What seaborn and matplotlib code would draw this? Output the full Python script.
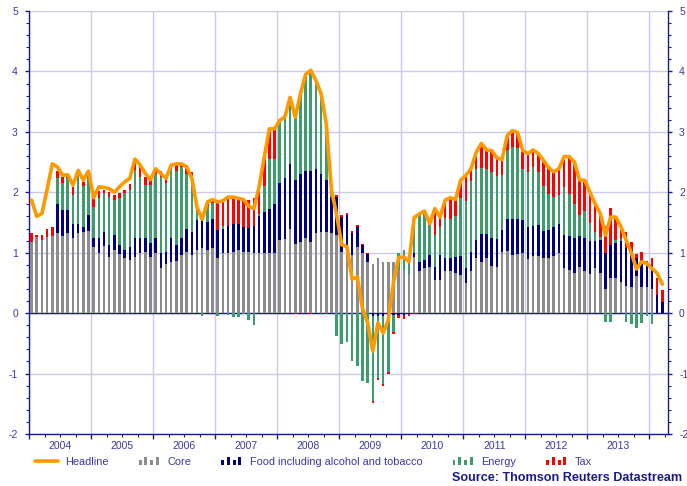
import numpy as np
import pandas as pd
import matplotlib
matplotlib.use('Agg')
import matplotlib.pyplot as plt
import seaborn as sns
from matplotlib.legend_handler import HandlerBase
from matplotlib.patches import Rectangle
from matplotlib.lines import Line2D
from matplotlib.ticker import MultipleLocator

# monthly data, Jan 2004 - Mar 2014 (percentage points)
months = pd.date_range('2004-01-01', '2014-03-01', freq='MS')
years = [str(y) for y in range(2004, 2014)]

headline = [
    1.87, 1.60, 1.65, 2.05, 2.47, 2.42, 2.28, 2.29, 2.12, 2.36, 2.20, 2.35,  # 2004
    1.91, 2.09, 2.08, 2.06, 2.00, 2.09, 2.17, 2.23, 2.55, 2.45, 2.31, 2.21,  # 2005
    2.39, 2.31, 2.23, 2.45, 2.47, 2.47, 2.42, 2.23, 1.75, 1.55, 1.84, 1.88,  # 2006
    1.84, 1.86, 1.92, 1.92, 1.90, 1.88, 1.77, 1.73, 2.09, 2.58, 3.05, 3.05,  # 2007
    3.19, 3.25, 3.57, 3.24, 3.63, 3.95, 4.02, 3.85, 3.63, 3.13, 2.04, 1.63,  # 2008
    1.13, 1.10, 0.56, 0.60, 0.08, -0.16, -0.63, -0.16, -0.33, -0.11, 0.51, 0.92,  # 2009
    0.93, 0.85, 1.58, 1.64, 1.69, 1.48, 1.73, 1.59, 1.87, 1.91, 1.88, 2.20,  # 2010
    2.28, 2.39, 2.66, 2.81, 2.70, 2.69, 2.57, 2.54, 2.94, 3.02, 2.99, 2.69,  # 2011
    2.64, 2.70, 2.64, 2.53, 2.41, 2.34, 2.39, 2.59, 2.59, 2.50, 2.20, 2.20,  # 2012
    2.00, 1.81, 1.65, 1.29, 1.59, 1.59, 1.43, 1.21, 1.00, 0.73, 0.85, 0.82,  # 2013
    0.74, 0.66, 0.48,  # 2014
]

core = [
    1.18, 1.26, 1.21, 1.26, 1.27, 1.33, 1.28, 1.32, 1.25, 1.32, 1.35, 1.36,
    1.10, 0.99, 1.11, 0.93, 1.05, 0.98, 0.91, 0.88, 0.93, 1.00, 1.02, 0.93,
    1.00, 0.74, 0.82, 0.85, 0.87, 0.96, 1.02, 0.96, 1.04, 1.07, 1.05, 1.07,
    0.91, 0.99, 1.00, 1.02, 1.05, 1.02, 1.02, 1.00, 0.99, 0.99, 1.00, 1.00,
    1.21, 1.22, 1.40, 1.14, 1.18, 1.24, 1.18, 1.33, 1.35, 1.35, 1.33, 1.30,
    1.02, 1.08, 0.97, 1.10, 0.99, 0.84, 0.82, 0.91, 0.85, 0.85, 0.85, 0.72,
    0.71, 0.63, 0.93, 0.69, 0.74, 0.77, 0.55, 0.55, 0.69, 0.69, 0.66, 0.63,
    0.50, 0.69, 0.91, 0.84, 0.91, 0.78, 0.77, 1.02, 1.03, 0.97, 0.98, 0.99,
    0.90, 0.94, 0.94, 0.91, 0.91, 0.94, 0.99, 0.75, 0.72, 0.67, 0.77, 0.69,
    0.64, 0.75, 0.66, 0.40, 0.58, 0.58, 0.52, 0.45, 0.44, 0.61, 0.44, 0.44,
    0.40, 0.00, 0.00,
]

food = [
    0.00, 0.00, 0.00, 0.00, 0.00, 0.47, 0.43, 0.39, 0.22, 0.16, 0.08, 0.26,
    0.15, 0.26, 0.23, 0.20, 0.24, 0.15, 0.13, 0.22, 0.31, 0.25, 0.22, 0.23,
    0.25, 0.25, 0.20, 0.40, 0.26, 0.29, 0.38, 0.39, 0.50, 0.47, 0.46, 0.48,
    0.46, 0.41, 0.44, 0.46, 0.42, 0.41, 0.39, 0.45, 0.62, 0.68, 0.73, 0.80,
    0.94, 1.02, 1.07, 1.06, 1.12, 1.12, 1.18, 1.06, 0.96, 0.86, 0.60, 0.62,
    0.57, 0.54, 0.36, 0.33, 0.14, 0.14, -0.05, -0.05, -0.05, -0.05, -0.03, -0.03,
    -0.03, -0.02, 0.06, 0.16, 0.14, 0.19, 0.22, 0.41, 0.22, 0.22, 0.27, 0.32,
    0.25, 0.33, 0.30, 0.47, 0.40, 0.46, 0.45, 0.36, 0.52, 0.58, 0.57, 0.55,
    0.52, 0.50, 0.52, 0.45, 0.46, 0.48, 0.48, 0.55, 0.55, 0.58, 0.50, 0.55,
    0.55, 0.45, 0.55, 0.60, 0.55, 0.58, 0.68, 0.62, 0.60, 0.30, 0.40, 0.36,
    0.40, 0.30, 0.18,
]

energy = [
    0.00, 0.00, 0.00, 0.00, 0.00, 0.44, 0.45, 0.53, 0.48, 0.82, 0.67, 0.63,
    0.50, 0.66, 0.65, 0.80, 0.58, 0.78, 0.94, 0.94, 1.13, 1.01, 0.88, 0.96,
    1.06, 1.26, 1.13, 1.20, 1.23, 1.17, 0.91, 0.93, 0.14, -0.04, 0.27, 0.28,
    -0.04, 0.05, -0.03, -0.06, -0.07, -0.01, -0.11, -0.20, 0.03, 0.44, 0.82, 0.75,
    1.04, 1.00, 1.10, 1.06, 1.33, 1.59, 1.67, 1.46, 1.34, 0.94, 0.08, -0.37,
    -0.51, -0.47, -0.80, -0.87, -1.13, -1.15, -1.40, -1.02, -1.12, -0.93, -0.29, 0.28,
    0.34, 0.25, 0.60, 0.79, 0.80, 0.50, 0.52, 0.47, 0.66, 0.64, 0.67, 0.95,
    1.10, 1.16, 1.18, 1.10, 1.08, 1.10, 1.05, 0.90, 1.15, 1.20, 1.18, 0.85,
    0.92, 0.98, 0.88, 0.75, 0.60, 0.50, 0.48, 0.78, 0.70, 0.55, 0.35, 0.45,
    0.30, 0.15, 0.05, -0.15, -0.14, 0.05, 0.02, -0.14, -0.18, -0.25, -0.16, -0.04,
    -0.18, 0.00, 0.00,
]

tax = [
    0.14, 0.03, 0.08, 0.13, 0.16, 0.11, 0.09, 0.05, 0.14, 0.05, 0.07, 0.10,
    0.15, 0.11, 0.04, 0.08, 0.08, 0.08, 0.05, 0.09, 0.11, 0.20, 0.14, 0.09,
    0.05, 0.10, 0.11, 0.02, 0.12, 0.06, 0.11, 0.06, 0.02, 0.05, 0.05, 0.05,
    0.49, 0.43, 0.46, 0.46, 0.46, 0.44, 0.46, 0.45, 0.45, 0.47, 0.50, 0.50,
    0.00, 0.00, 0.00, -0.02, 0.00, 0.00, -0.02, 0.00, -0.02, -0.02, 0.03, 0.03,
    0.03, 0.03, 0.03, 0.03, 0.02, 0.02, -0.03, -0.03, -0.03, -0.03, -0.03, -0.05,
    -0.06, -0.03, -0.01, 0.00, 0.01, 0.02, 0.44, 0.16, 0.30, 0.36, 0.27, 0.30,
    0.43, 0.20, 0.27, 0.40, 0.31, 0.35, 0.30, 0.26, 0.24, 0.27, 0.26, 0.30,
    0.30, 0.28, 0.30, 0.42, 0.44, 0.42, 0.44, 0.51, 0.62, 0.70, 0.58, 0.51,
    0.51, 0.46, 0.39, 0.44, 0.61, 0.40, 0.21, 0.28, 0.14, 0.07, 0.17, 0.06,
    0.12, 0.28, 0.20,
]

NAVY = '#1c1c84'
TXT = '#3a3aa0'
GRID = '#cbcbe6'
colors = {'Core': '#8c8c8c', 'Food including alcohol and tobacco': '#000080',
          'Energy': '#3c9c6c', 'Tax': '#ff0000'}

sns.set_theme(style='white')
plt.rcParams['font.family'] = ['Liberation Sans', 'DejaVu Sans']
plt.rcParams['axes.unicode_minus'] = False

fig = plt.figure(figsize=(6.87, 4.86), dpi=100)
ax = fig.add_axes([29 / 687, 1 - 434 / 486, 639 / 687, 423 / 486])

x = np.arange(len(months))
df = pd.DataFrame({'x': x, 'Headline': headline, 'Core': core,
                   'Food including alcohol and tobacco': food,
                   'Energy': energy, 'Tax': tax})

# stacked bars, positives up and negatives down
pos_base = np.zeros(len(df))
neg_base = np.zeros(len(df))
for name in ['Core', 'Food including alcohol and tobacco', 'Energy', 'Tax']:
    v = df[name].to_numpy()
    pos = np.where(v > 0, v, 0)
    neg = np.where(v < 0, v, 0)
    ax.bar(df['x'], pos, bottom=pos_base, width=0.5, color=colors[name], linewidth=0, zorder=3)
    ax.bar(df['x'], neg, bottom=neg_base, width=0.5, color=colors[name], linewidth=0, zorder=3)
    pos_base += pos
    neg_base += neg

sns.lineplot(data=df, x='x', y='Headline', ax=ax, color='#ff9900', linewidth=2.6, zorder=5)

ax.set_xlim(-0.5, 123.1)
ax.set_ylim(-2, 5)
ax.set_xlabel('')
ax.set_ylabel('')

# axes look
for side in ['left', 'right', 'bottom']:
    ax.spines[side].set_visible(True)
    ax.spines[side].set_color(NAVY)
    ax.spines[side].set_linewidth(1.0)
ax.spines['top'].set_visible(False)

ax.yaxis.set_major_locator(MultipleLocator(1))
ax.yaxis.set_minor_locator(MultipleLocator(0.2))
ax.tick_params(axis='y', which='both', left=True, right=True, labelleft=True, labelright=True,
               direction='out', color=NAVY, labelcolor=TXT, labelsize=7.5)
ax.tick_params(axis='y', which='major', length=3, width=1, pad=5)
ax.tick_params(axis='y', which='minor', length=2, width=0.8)

bounds = [-0.5 + 12 * k for k in range(11)]
quarters = [-0.5 + 3 * k for k in range(42) if k % 4 != 0]
ax.set_xticks(bounds)
ax.set_xticklabels([])
ax.set_xticks(quarters, minor=True)
ax.tick_params(axis='x', which='major', bottom=True, length=3.5, width=1, color=NAVY, direction='out')
ax.tick_params(axis='x', which='minor', bottom=True, length=2, width=0.8, color=NAVY, direction='out')

secax = ax.secondary_xaxis('bottom')
secax.set_xticks([5.5 + 12 * k for k in range(len(years))], labels=years)
secax.tick_params(length=0, pad=5, labelsize=7.5, labelcolor=TXT)
secax.spines['bottom'].set_visible(False)

ax.set_axisbelow(True)
ax.grid(True, which='major', axis='both', color=GRID, linewidth=1.0)
ax.axhline(0, color=NAVY, linewidth=1.0, zorder=2)


class BarsHandler(HandlerBase):
    def __init__(self, color, heights):
        super().__init__()
        self.color = color
        self.heights = heights

    def create_artists(self, legend, orig_handle, xdescent, ydescent, width, height, fontsize, trans):
        n = len(self.heights)
        step = width / n
        arts = []
        for i, h in enumerate(self.heights):
            r = Rectangle((-xdescent + i * step + step * 0.25, -ydescent), step * 0.5, height * h,
                          facecolor=self.color, edgecolor='none', transform=trans)
            arts.append(r)
        return arts


handles = [Line2D([], [], color='#ff9900', linewidth=2.6)]
labels = ['Headline']
hmap = {}
for name in ['Core', 'Food including alcohol and tobacco', 'Energy', 'Tax']:
    h = Rectangle((0, 0), 1, 1, color=colors[name])
    handles.append(h)
    labels.append(name)
    hmap[h] = BarsHandler(colors[name], [0.6, 1.0, 0.6, 1.0])

leg = fig.legend(handles, labels, handler_map=hmap, loc='center left',
                 bbox_to_anchor=(35 / 687, 1 - 462 / 486), ncol=5, frameon=False,
                 fontsize=7.9, handlelength=2.1, handletextpad=0.65, columnspacing=2.6,
                 borderpad=0, borderaxespad=0)
for t in leg.get_texts():
    t.set_color(TXT)

fig.text(452 / 687, 1 - 478 / 486, 'Source: Thomson Reuters Datastream', fontsize=9.1,
         fontweight='bold', color='#1a1a8a', ha='left', va='center')

fig.savefig('out.png', dpi=100)
